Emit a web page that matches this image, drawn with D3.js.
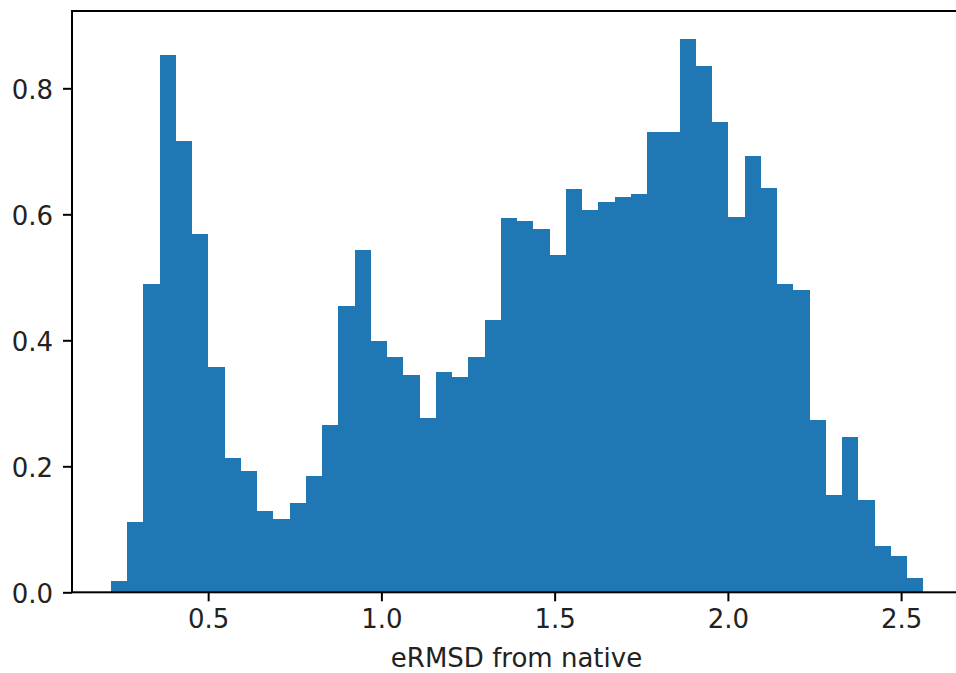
<!DOCTYPE html>
<html>
<head>
<meta charset="utf-8">
<script src="https://cdn.jsdelivr.net/npm/d3@7"></script>
<style>
  body { margin: 0; background: #fff; }
  svg { display: block; }
  text { font-family: "DejaVu Sans", sans-serif; }
</style>
</head>
<body>
<script>
const w = 956; // width
const h = 673; // height

// histogram: 50 bins, first edge and bin width
const binStart = 0.2194;
const binWidth = 0.04689;
const density = [
  0.018, 0.112, 0.489, 0.853, 0.717, 0.569, 0.358, 0.213, 0.193, 0.129,
  0.117, 0.141, 0.184, 0.265, 0.455, 0.544, 0.399, 0.374, 0.345, 0.277,
  0.349, 0.341, 0.374, 0.433, 0.594, 0.590, 0.577, 0.535, 0.640, 0.607,
  0.620, 0.628, 0.633, 0.730, 0.730, 0.878, 0.836, 0.746, 0.595, 0.693,
  0.641, 0.489, 0.480, 0.273, 0.155, 0.247, 0.146, 0.074, 0.057, 0.023
];
const xTicks = [0.5, 1.0, 1.5, 2.0, 2.5];
const xTickLabels = ["0.5", "1.0", "1.5", "2.0", "2.5"];
const yTicks = [0.0, 0.2, 0.4, 0.6, 0.8];
const yTickLabels = ["0.0", "0.2", "0.4", "0.6", "0.8"];
const xLabel = "eRMSD from native";

// plot area (right edge runs past the window)
const pLeft = 72, pRight = 964, pTop = 11, pBottom = 592.3;
const fontSize = "26px";

let svg = d3.select("body")
    .append("svg")
    .attr("width", w)
    .attr("height", h);

let bins = density.map((d, i) => ({
    x0: binStart + i * binWidth,
    x1: binStart + (i + 1) * binWidth,
    value: d
}));

// scales
let x = d3.scaleLinear()
    .domain([0.107, 2.6815])
    .range([pLeft, pRight]);

let y = d3.scaleLinear()
    .domain([0, 0.9227])
    .range([pBottom, pTop]);

// bars, snapped to pixels so neighbours leave no seams
svg.append("g")
    .attr("shape-rendering", "crispEdges")
    .selectAll("rect")
    .data(bins)
    .enter()
    .append("rect")
    .attr("x", d => Math.round(x(d.x0)))
    .attr("width", d => Math.round(x(d.x1)) - Math.round(x(d.x0)))
    .attr("y", d => Math.round(y(d.value)))
    .attr("height", d => Math.round(y(0)) - Math.round(y(d.value)))
    .attr("fill", "#1f77b4");

// x axis
let xAxis = svg.append("g")
    .attr("transform", `translate(0,${pBottom})`)
    .call(d3.axisBottom(x)
        .tickValues(xTicks)
        .tickFormat((d, i) => xTickLabels[i])
        .tickSize(9)
        .tickPadding(8)
        .tickSizeOuter(0));

// y axis
let yAxis = svg.append("g")
    .attr("transform", `translate(${pLeft},0)`)
    .call(d3.axisLeft(y)
        .tickValues(yTicks)
        .tickFormat((d, i) => yTickLabels[i])
        .tickSize(9)
        .tickPadding(10)
        .tickSizeOuter(0));

[xAxis, yAxis].forEach(g => {
    g.select(".domain").remove();
    g.selectAll(".tick line").attr("stroke", "#000").attr("stroke-width", 2);
    g.selectAll(".tick text")
        .attr("fill", "#222")
        .style("font-size", fontSize)
        .style("font-family", "DejaVu Sans");
});
yAxis.selectAll(".tick text").attr("dy", "0.38em");

// frame
svg.append("rect")
    .attr("x", pLeft)
    .attr("y", pTop)
    .attr("width", pRight - pLeft)
    .attr("height", pBottom - pTop)
    .attr("fill", "none")
    .attr("stroke", "#000")
    .attr("stroke-width", 2);

// x axis label
svg.append("text")
    .attr("text-anchor", "middle")
    .attr("x", (388 + 645) / 2)
    .attr("y", 667)
    .attr("fill", "#222")
    .style("font-size", fontSize)
    .text(xLabel);
</script>
</body>
</html>
